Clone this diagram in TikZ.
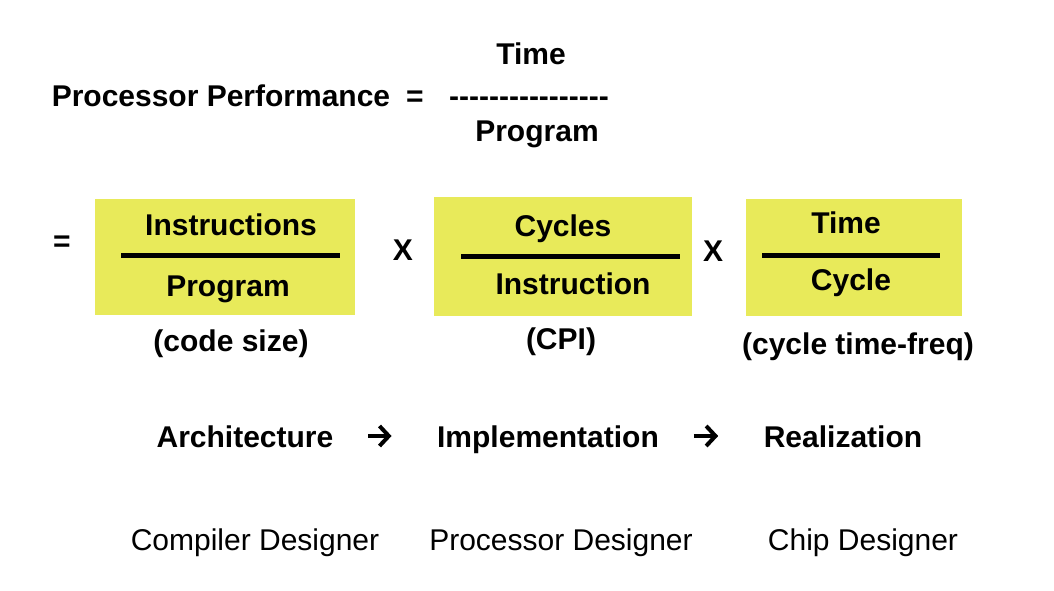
\documentclass[tikz,border=0pt]{standalone}
\usepackage{fontspec}
\setmainfont{Liberation Sans}
\usepackage{tikz}
\usetikzlibrary{arrows.meta}
\pgfdeclarelayer{edgelayer}
\pgfdeclarelayer{nodelayer}
\pgfsetlayers{edgelayer,nodelayer,main}
\definecolor{boxyellow}{RGB}{232,234,90}
\newcommand{\dashrow}{\foreach \i in {1,...,16}{\mbox{-}}}
\tikzstyle{none}=[inner sep=0pt]
\tikzstyle{term}=[inner sep=0pt,anchor=base,font=\fontsize{22.5}{27}\selectfont\bfseries]
\tikzstyle{role}=[inner sep=0pt,anchor=base,font=\fontsize{22.5}{27}\selectfont]
\tikzstyle{stage}=[term,text height=22.5pt,text depth=4.5pt]
\tikzstyle{factor}=[fill=boxyellow,draw=none,inner sep=0pt]
\tikzstyle{bar}=[draw=black,line width=3.75pt]
\tikzstyle{transition}=[-{Straight Barb[length=7pt,width=15pt]},draw=black,line width=3pt,shorten <=26pt,shorten >=34pt]

\begin{document}
\begin{tikzpicture}[x=0.75pt,y=-0.75pt]
	\useasboundingbox (0,0) rectangle (1054,591);
	\begin{pgfonlayer}{edgelayer}
		\node [style=factor,minimum width=195pt,minimum height=87pt] (10) at (225,257) {};
		\node [style=factor,minimum width=193.5pt,minimum height=89.25pt] (11) at (563,256.5) {};
		\node [style=factor,minimum width=162pt,minimum height=87.75pt] (12) at (854,257.5) {};
		\node [style=none] (13) at (121,256) {};
		\node [style=none] (14) at (340,256) {};
		\node [style=none] (15) at (461,257) {};
		\node [style=none] (16) at (680,257) {};
		\node [style=none] (17) at (762,256) {};
		\node [style=none] (18) at (940,256) {};
		\draw [style=bar] (13.center) to (14.center);
		\draw [style=bar] (15.center) to (16.center);
		\draw [style=bar] (17.center) to (18.center);
	\end{pgfonlayer}
	\begin{pgfonlayer}{nodelayer}
		\node [style=term] (0) at (531,65) {Time};
		\node [style=term] (1) at (221,107) {Processor Performance};
		\node [style=term] (2) at (415,107) {=};
		\node [style=term] (3) at (529,107) {\dashrow};
		\node [style=term] (4) at (537,142) {Program};
		\node [style=term] (5) at (62,252) {=};
		\node [style=term] (20) at (231,236) {Instructions};
		\node [style=term] (21) at (228,297) {Program};
		\node [style=term] (22) at (403,261) {X};
		\node [style=term] (23) at (563,237) {Cycles};
		\node [style=term] (24) at (573,295) {Instruction};
		\node [style=term] (25) at (713,262) {X};
		\node [style=term] (26) at (846,234) {Time};
		\node [style=term] (27) at (851,291) {Cycle};
		\node [style=term] (30) at (231,352) {(code size)};
		\node [style=term] (31) at (561,350) {(CPI)};
		\node [style=term] (32) at (858,355) {(cycle time-freq)};
		\node [style=stage] (40) at (245,448) {Architecture};
		\node [style=stage] (41) at (548,448) {Implementation};
		\node [style=stage] (42) at (843,448) {Realization};
		\node [style=role] (50) at (255,551) {Compiler Designer};
		\node [style=role] (51) at (561,551) {Processor Designer};
		\node [style=role] (52) at (863,551) {Chip Designer};
	\end{pgfonlayer}
	\draw [style=transition] (40) to (41);
	\draw [style=transition] (41) to (42);
\end{tikzpicture}
\end{document}
